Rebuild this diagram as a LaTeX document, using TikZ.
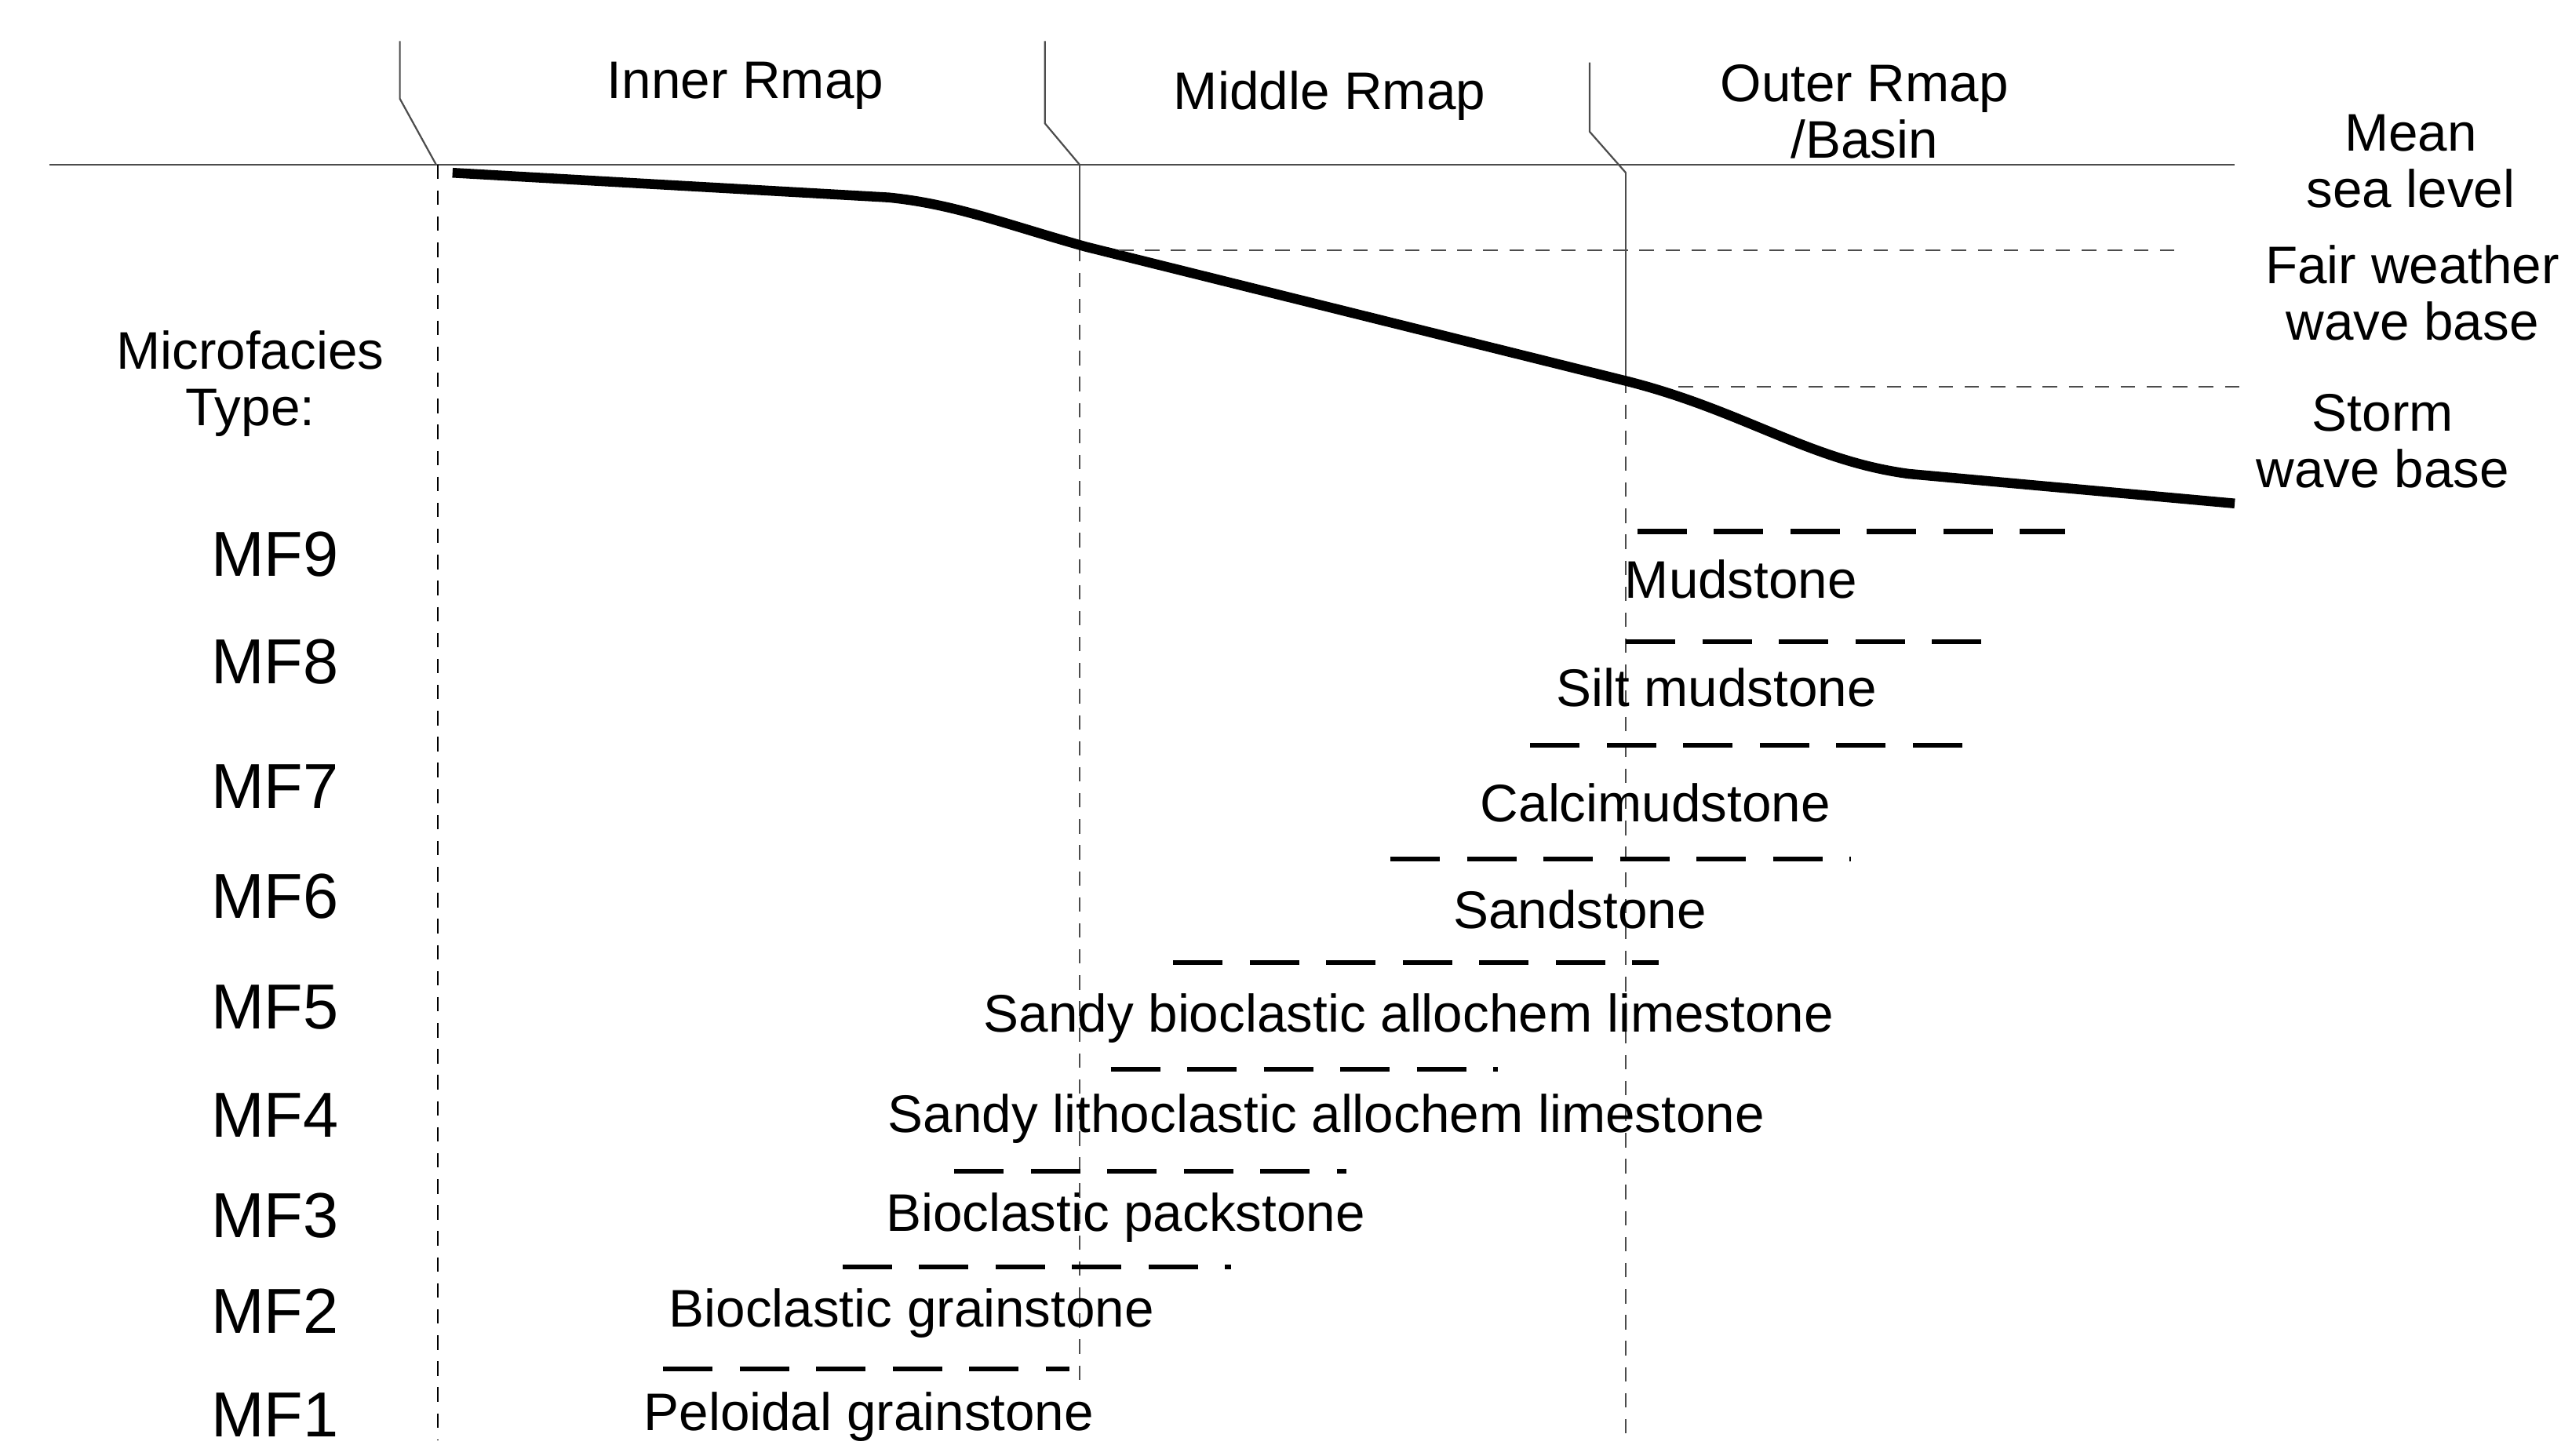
\documentclass[tikz,border=0pt]{standalone}
\usepackage{fontspec}
\setmainfont{Liberation Sans}
\begin{document}
\begin{tikzpicture}[x=0.02cm,y=-0.02cm,
  lbl/.style={font=\fontsize{18.3}{19.5}\selectfont,align=center,inner sep=1pt},
  mf/.style={font=\fontsize{22}{24}\selectfont,inner sep=1pt},
  bar/.style={line width=1.7pt,dash pattern=on 0.6cm off 0.33cm},
  thin/.style={line width=0.6pt,black!70},
  vd/.style={line width=0.6pt,dash pattern=on 5pt off 4pt}]
\useasboundingbox (0,0) rectangle (1563,884.6);
% sea level
\draw[thin] (30,100) -- (1358,100);
% zone ticks
\draw[thin] (243,25) -- (243,60) -- (265,100);
\draw[thin] (635,25) -- (635,75) -- (656,100);
\draw[thin] (966,38) -- (966,80) -- (988,105);
% verticals
\draw[vd] (266,100) -- (266,875);
\draw[thin] (656,100) -- (656,150);
\draw[vd,black!70] (656,150) -- (656,840);
\draw[thin] (988,105) -- (988,230);
\draw[vd,black!70] (988,230) -- (988,875);
% profile
\draw[line width=3.4pt] (275,105) -- (540,120) .. controls (580,124) and (610,136) .. (660,150) -- (990,232) .. controls (1060,250) and (1100,280) .. (1160,288) -- (1358,306);
% wave bases
\draw[vd,black!70] (680,152) -- (1325,152);
\draw[vd,black!70] (1020,235) -- (1365,235);
% headers
\node[lbl] (inner) at (453,52) {Inner Rmap};
\node[lbl] (middle) at (808,58) {Middle Rmap};
\node[lbl] (outer) at (1133,68) {Outer Rmap\\/Basin};
\node[lbl] (msl) at (1465,98) {Mean\\sea level};
\node[lbl] (fwwb) at (1466,178) {Fair weather\\wave base};
\node[lbl] (swb) at (1448,268) {Storm\\wave base};
\node[lbl] (mt) at (152,233) {Microfacies\\Type:};
% MF labels
\foreach \n/\y in {9/337,8/402,7/478,6/545,5/612,4/678,3/739,2/797,1/860}
  \node[mf] (mf\n) at (167,\y) {MF\n};
% bars
\draw[bar] (995,323) -- (1255,323);
\draw[bar] (988,390) -- (1220,390);
\draw[bar] (930,453) -- (1195,453);
\draw[bar] (845,522) -- (1125,522);
\draw[bar] (713,585) -- (1008,585);
\draw[bar] (675,650) -- (910,650);
\draw[bar] (580,712) -- (818,712);
\draw[bar] (512,770) -- (748,770);
\draw[bar] (403,832) -- (650,832);
% facies names
\node[lbl] (t9) at (1058,352) {Mudstone};
\node[lbl] (t8) at (1043,418) {Silt mudstone};
\node[lbl] (t7) at (1006,488) {Calcimudstone};
\node[lbl] (t6) at (960,553) {Sandstone};
\node[lbl] (t5) at (856,619) {Sandy bioclastic allochem limestone};
\node[lbl] (t4) at (806,680) {Sandy lithoclastic allochem limestone};
\node[lbl] (t3) at (684,740) {Bioclastic packstone};
\node[lbl] (t2) at (554,798) {Bioclastic grainstone};
\node[lbl] (t1) at (528,861) {Peloidal grainstone};
\end{tikzpicture}
\end{document}
